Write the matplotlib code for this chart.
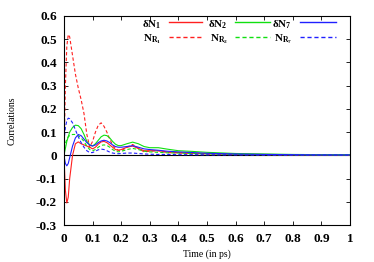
import numpy as np
import matplotlib.pyplot as plt

# time grid (ps)
t = [0, 0.005, 0.01, 0.015, 0.02, 0.03, 0.04, 0.05, 0.06, 0.07, 0.08, 0.09,
     0.1, 0.11, 0.12, 0.13, 0.14, 0.15, 0.16, 0.17, 0.18, 0.19, 0.2, 0.22,
     0.24, 0.26, 0.28, 0.3, 0.33, 0.36, 0.4, 0.45, 0.5, 0.6, 0.7, 0.8, 0.9, 1.0]

dN1 = [0, -0.15, -0.205, -0.18, -0.1, 0.0, 0.05, 0.058, 0.05, 0.045, 0.04, 0.035,
       0.028, 0.035, 0.048, 0.058, 0.06, 0.055, 0.045, 0.035, 0.025, 0.022, 0.025, 0.035,
       0.04, 0.03, 0.02, 0.02, 0.02, 0.015, 0.012, 0.01, 0.007, 0.005, 0.004, 0.003, 0.002, 0.002]
NR1 = [0, 0.3, 0.47, 0.52, 0.51, 0.43, 0.35, 0.29, 0.24, 0.18, 0.09, 0.035,
       0.06, 0.1, 0.13, 0.14, 0.125, 0.1, 0.07, 0.045, 0.03, 0.022, 0.02, 0.035,
       0.047, 0.03, 0.015, 0.018, 0.02, 0.012, 0.01, 0.008, 0.005, 0.004, 0.003, 0.002, 0.002, 0.001]
dN2 = [0, 0.03, 0.06, 0.08, 0.1, 0.12, 0.13, 0.128, 0.115, 0.09, 0.06, 0.045,
       0.04, 0.05, 0.065, 0.08, 0.087, 0.085, 0.075, 0.06, 0.048, 0.042, 0.042, 0.05,
       0.057, 0.05, 0.038, 0.033, 0.033, 0.027, 0.02, 0.017, 0.013, 0.008, 0.006, 0.004, 0.003, 0.003]
NR2 = [0.03, 0.05, 0.07, 0.08, 0.085, 0.09, 0.09, 0.085, 0.075, 0.06, 0.04, 0.025,
       0.02, 0.025, 0.035, 0.043, 0.045, 0.043, 0.035, 0.025, 0.018, 0.015, 0.017, 0.025,
       0.03, 0.025, 0.018, 0.015, 0.013, 0.011, 0.01, 0.008, 0.006, 0.004, 0.003, 0.002, 0.002, 0.001]
dN7 = [0, -0.035, -0.045, -0.035, -0.01, 0.04, 0.075, 0.09, 0.085, 0.07, 0.055, 0.045,
       0.04, 0.045, 0.055, 0.062, 0.065, 0.062, 0.055, 0.045, 0.038, 0.035, 0.035, 0.038,
       0.042, 0.035, 0.028, 0.025, 0.022, 0.018, 0.015, 0.012, 0.009, 0.006, 0.004, 0.003, 0.002, 0.002]
NR7 = [0.06, 0.12, 0.15, 0.16, 0.158, 0.14, 0.11, 0.08, 0.055, 0.035, 0.02, 0.012,
       0.012, 0.018, 0.024, 0.027, 0.025, 0.02, 0.014, 0.01, 0.008, 0.007, 0.008, 0.01,
       0.01, 0.008, 0.006, 0.005, 0.004, 0.004, 0.003, 0.003, 0.002, 0.002, 0.001, 0.001, 0.001, 0.001]

labels = ["δN$_{\\mathbf{1}}$", "N$_{\\mathbf{R_1}}$",
          "δN$_{\\mathbf{2}}$", "N$_{\\mathbf{R_2}}$",
          "δN$_{\\mathbf{7}}$", "N$_{\\mathbf{R_7}}$"]
values = [dN1, NR1, dN2, NR2, dN7, NR7]
colors = ["#ff2020", "#ff2020", "#10e010", "#10e010", "#2020ff", "#2020ff"]
styles = ["-", "--", "-", "--", "-", "--"]

plt.rcParams['font.family'] = 'Liberation Serif'
plt.rcParams['font.weight'] = 'bold'
plt.rcParams['mathtext.fontset'] = 'custom'
plt.rcParams['mathtext.rm'] = 'Liberation Serif:bold'
plt.rcParams['mathtext.bf'] = 'Liberation Serif:bold'
plt.rcParams['mathtext.it'] = 'Liberation Serif:italic:bold'

fig = plt.figure(figsize=(3.74, 2.62), dpi=100)
ax = fig.add_axes([0.171, 0.141, 0.765, 0.798])

ax.axhline(0, color="black", lw=0.8)
for i in range(6):
    if styles[i] == "--":
        ax.plot(t, values[i], color=colors[i], lw=0.8, dashes=(3, 2))
    else:
        ax.plot(t, values[i], color=colors[i], lw=0.8)

# gnuplot-style key: label on the left, sample on the right, 3 columns x 2 rows
text_right = [0.339, 0.573, 0.797]
samp_x = [(0.367, 0.483), (0.598, 0.720), (0.825, 0.951)]
rows = [0.96, 0.888]
for i in range(6):
    col, row = i // 2, i % 2
    ax.text(text_right[col], rows[row], labels[i], transform=ax.transAxes,
            ha="right", va="center", fontsize=8)
    x0, x1 = samp_x[col]
    if styles[i] == "--":
        ax.plot([x0, x1], [rows[row] + 0.01] * 2, transform=ax.transAxes,
                color=colors[i], lw=1.0, dashes=(3, 2))
    else:
        ax.plot([x0, x1], [rows[row] + 0.01] * 2, transform=ax.transAxes,
                color=colors[i], lw=1.0)

ax.set_xlim(0, 1)
ax.set_ylim(-0.3, 0.6)
ax.set_xticks(np.arange(0, 1.01, 0.1))
ax.set_xticklabels(["0", "0.1", "0.2", "0.3", "0.4", "0.5", "0.6", "0.7", "0.8", "0.9", "1"])
ax.set_yticks(np.arange(-0.3, 0.61, 0.1))
ax.set_yticklabels(["-0.3", "-0.2", "-0.1", "0", "0.1", "0.2", "0.3", "0.4", "0.5", "0.6"])
ax.tick_params(direction="in", top=True, right=True, length=3, width=0.6,
               labelsize=9.5)
ax.tick_params(axis="x", pad=6)
ax.tick_params(axis="y", pad=5)
for s in ax.spines.values():
    s.set_linewidth(0.8)

ax.set_xlabel("Time (in ps)", fontsize=7, labelpad=3)
ax.set_ylabel("Correlations", fontsize=7)
ax.yaxis.set_label_coords(-0.165, 0.5)

fig.savefig("out.png", dpi=100)
